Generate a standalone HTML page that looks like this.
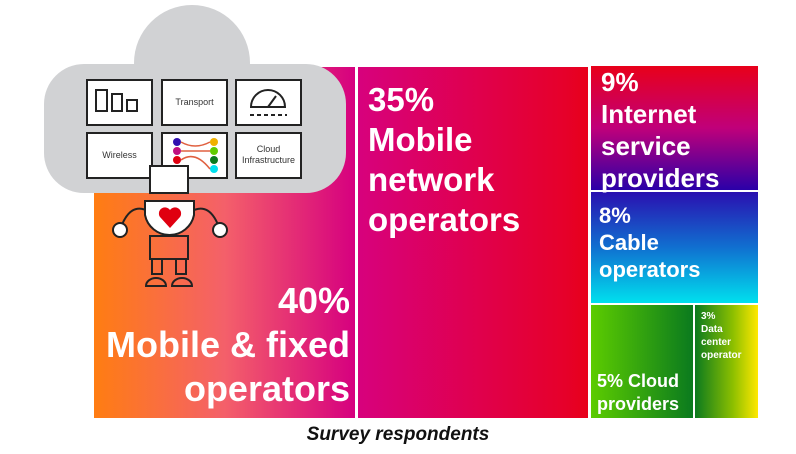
<!DOCTYPE html>
<html><head><style>
body{margin:0;width:796px;height:454px;background:#fff;position:relative;overflow:hidden;font-family:"Liberation Sans",sans-serif;}
.b{position:absolute;color:#fff;font-weight:bold;white-space:nowrap;}
.t{position:absolute;font-size:9px;color:#333;text-align:center;}
</style></head><body>
<div class="b" style="left:94px;top:67px;width:261px;height:351px;background:linear-gradient(90deg,#ff7d12,#f4606a 50%,#d6007f)"></div>
<div class="b" style="left:358px;top:67px;width:230px;height:351px;background:linear-gradient(90deg,#d7017d,#e6002a 90%,#e8001a)"></div>
<div class="b" style="left:591px;top:66px;width:167px;height:124px;background:linear-gradient(180deg,#e8001a,#c0007a 50%,#2a00a8)"></div>
<div class="b" style="left:591px;top:192px;width:167px;height:111px;background:linear-gradient(180deg,#2a10b0,#1070d0 50%,#00e0ee)"></div>
<div class="b" style="left:591px;top:305px;width:102px;height:113px;background:linear-gradient(90deg,#5ccc00,#0a7a1e)"></div>
<div class="b" style="left:695px;top:305px;width:63px;height:113px;background:linear-gradient(90deg,#0b7a1e,#8cbf00 60%,#ffe800)"></div>

<div class="b" style="left:50px;top:279px;width:300px;text-align:right;font-size:36px;line-height:44px">40%<br>Mobile &amp; fixed<br>operators</div>
<div class="b" style="left:368px;top:80px;font-size:33px;line-height:40px">35%<br>Mobile<br>network<br>operators</div>
<div class="b" style="left:601px;top:66px;font-size:26px;line-height:32px">9%<br>Internet<br>service<br>providers</div>
<div class="b" style="left:599px;top:202px;font-size:22px;line-height:27px">8%<br>Cable<br>operators</div>
<div class="b" style="left:597px;top:370px;font-size:18px;line-height:23px">5% Cloud<br>providers</div>
<div class="b" style="left:701px;top:310px;font-size:10px;line-height:13px">3%<br>Data<br>center<br>operator</div>
<div style="position:absolute;left:0;width:796px;top:424px;text-align:center;font-size:19px;font-weight:bold;font-style:italic;color:#111">Survey respondents</div>

<svg style="position:absolute;left:0;top:0" width="796" height="454">
<g fill="#d1d2d4">
<circle cx="192" cy="63" r="58"/>
<rect x="44" y="64" width="302" height="129" rx="40"/>
</g>
<g fill="#fff" stroke="#222" stroke-width="2">
<rect x="87" y="80" width="65" height="45"/><rect x="162" y="80" width="65" height="45"/><rect x="236" y="80" width="65" height="45"/>
<rect x="87" y="133" width="65" height="45"/><rect x="162" y="133" width="65" height="45"/><rect x="236" y="133" width="65" height="45"/>
</g>
<g fill="none" stroke="#222" stroke-width="2">
<rect x="96" y="90" width="11" height="21"/><rect x="112" y="94" width="10" height="17"/><rect x="127" y="100" width="10" height="11"/>
<path d="M251 107 A17 17 0 0 1 285 107 Z"/><path d="M250 115 H287" stroke-dasharray="4 3"/><path d="M268 107 L276 96"/>
</g>
<g>
<circle cx="177" cy="142" r="4" fill="#3010b0"/><circle cx="177" cy="151" r="4" fill="#c01080"/><circle cx="177" cy="160" r="4" fill="#e00010"/>
<circle cx="214" cy="142" r="4" fill="#f0b000"/><circle cx="214" cy="151" r="4" fill="#60cc00"/><circle cx="214" cy="160" r="4" fill="#0a7a1e"/><circle cx="214" cy="169" r="4" fill="#00e0ee"/>
<path d="M181 142 Q195 150 210 142 M181 160 Q195 150 210 169 M181 151 H210" stroke="#e06040" fill="none" stroke-width="1.5"/>
</g>
<g stroke="#222" stroke-width="2" fill="#fff">
<path d="M150 212 Q130 200 120 230" fill="none"/><path d="M190 212 Q210 200 220 230" fill="none"/>
<circle cx="120" cy="230" r="7"/><circle cx="220" cy="230" r="7"/>
<rect x="150" y="166" width="38" height="27"/>
<path d="M145 201 H194 V215 A25 25 0 0 1 145 215 Z"/>
<rect x="150" y="236" width="38" height="23" fill="none"/>
<rect x="152" y="259" width="10" height="15" fill="none"/><rect x="176" y="259" width="10" height="15" fill="none"/>
<path d="M146 286 A10 8 0 0 1 166 286 Z M172 286 A10 8 0 0 1 192 286 Z" fill="none"/>
</g>
<path d="M170 228 L160 217 A6 6 0 0 1 170 210 A6 6 0 0 1 180 217 Z" fill="#e00010"/>
</svg>
<div class="t" style="left:162px;top:97px;width:65px">Transport</div>
<div class="t" style="left:87px;top:150px;width:65px">Wireless</div>
<div class="t" style="left:236px;top:144px;width:65px;line-height:11px">Cloud<br>Infrastructure</div>
</body></html>
